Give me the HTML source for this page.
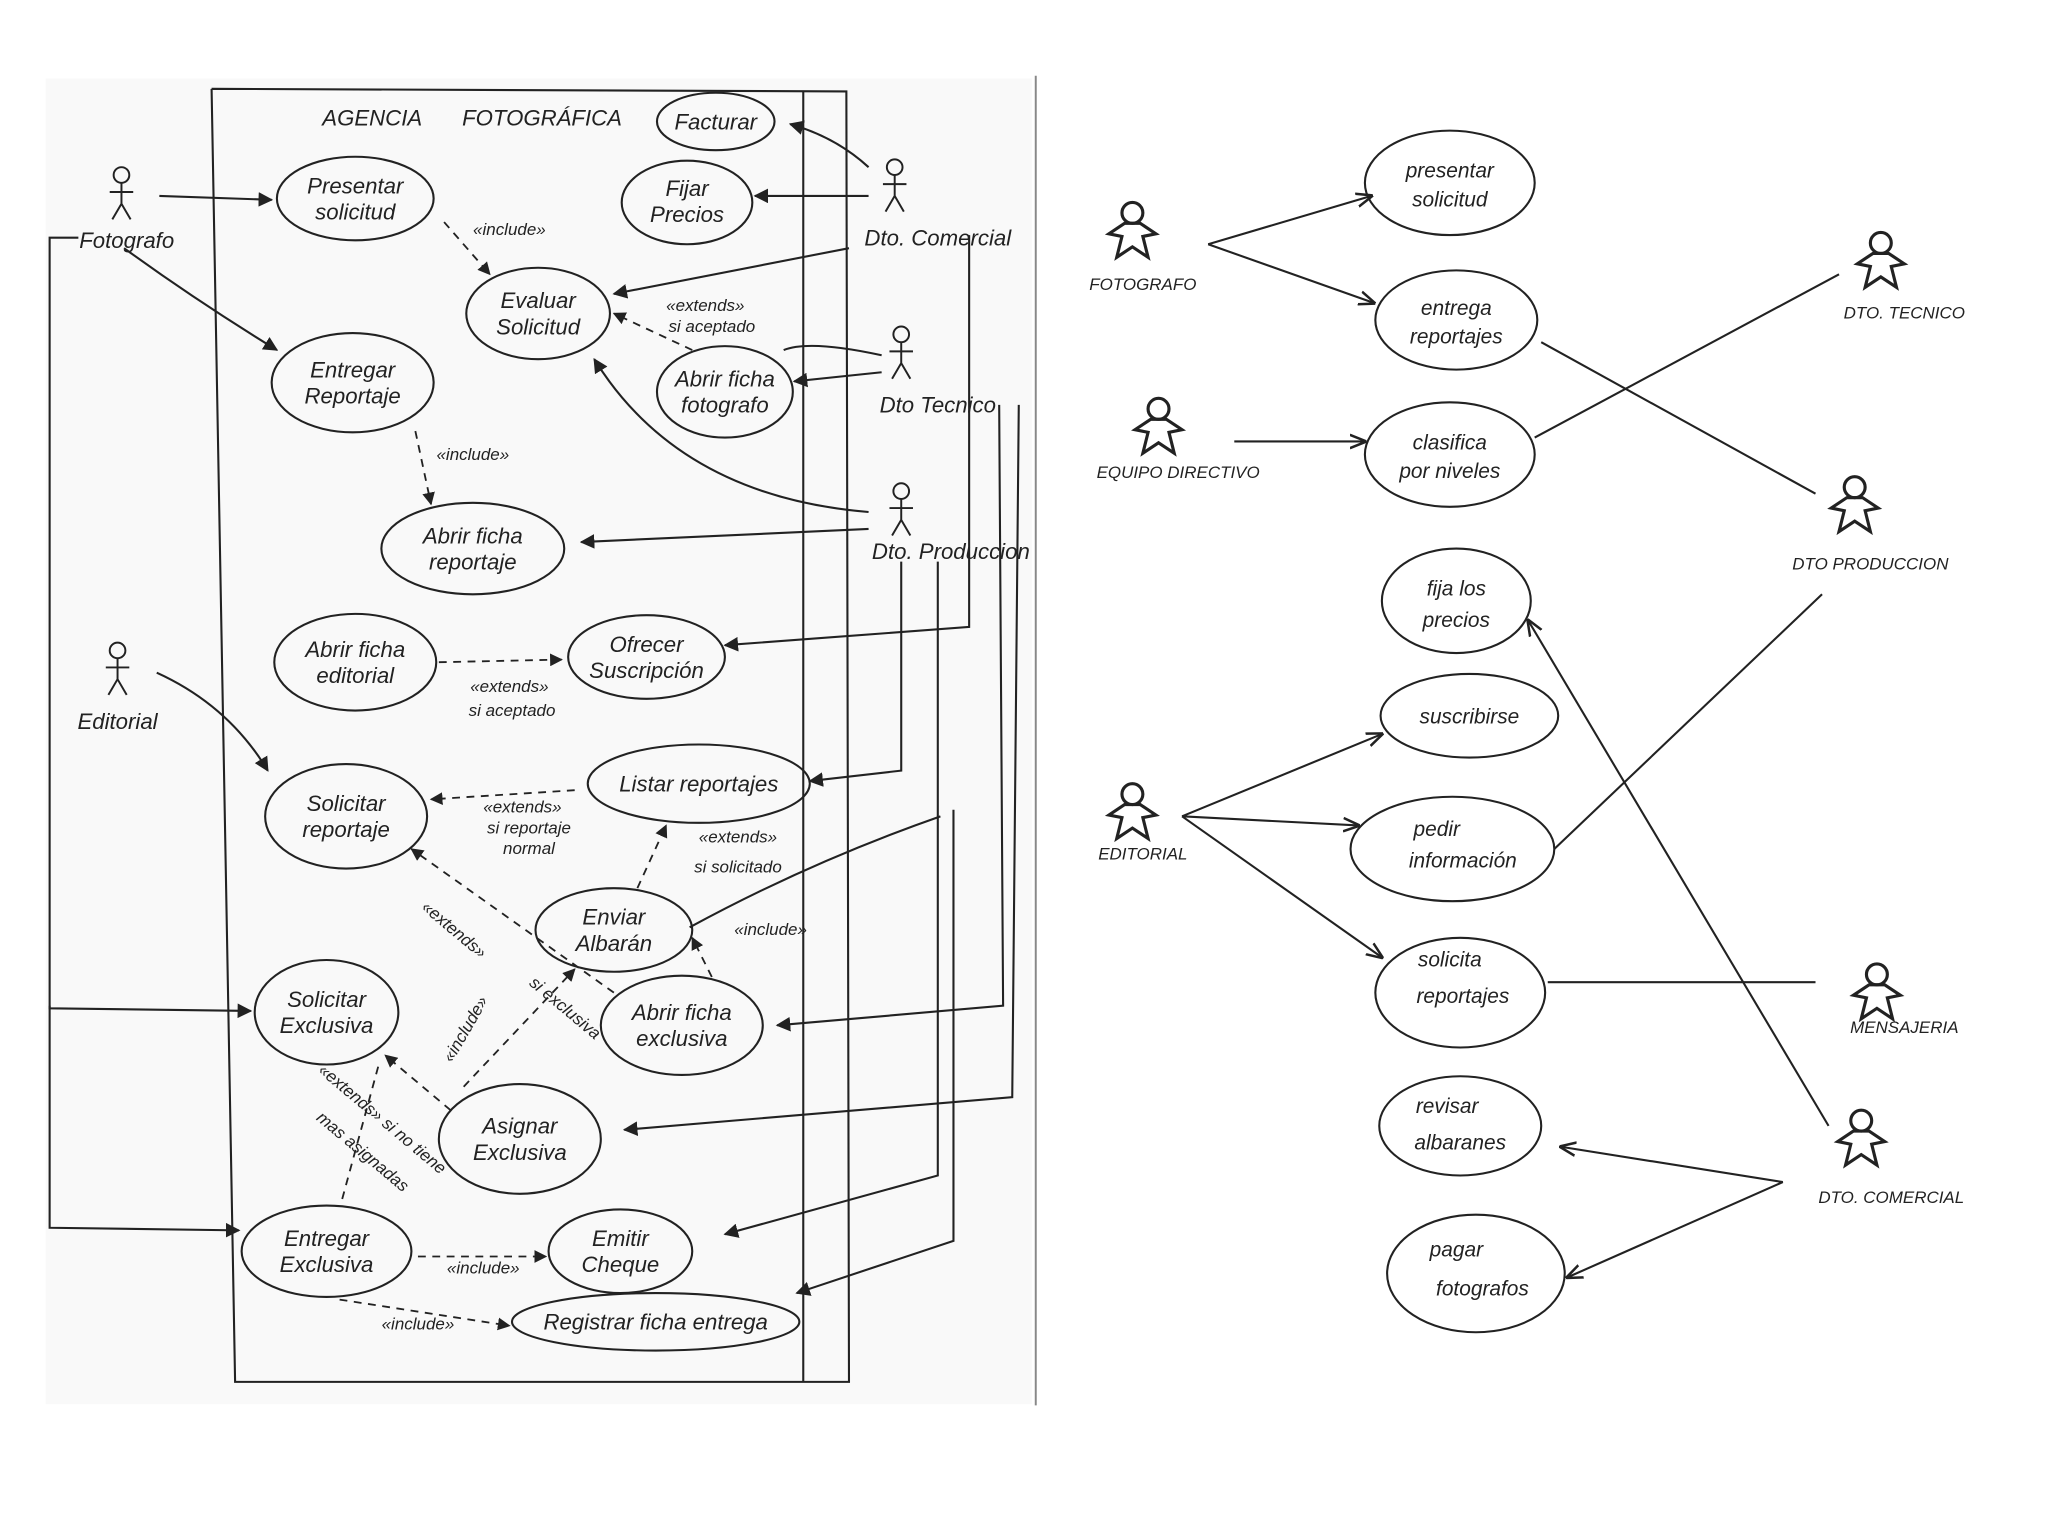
<!DOCTYPE html>
<html><head><meta charset="utf-8"><style>
html,body{margin:0;padding:0;background:#fff;width:2048px;height:1536px;overflow:hidden}
svg{display:block}
text{font-family:"Liberation Sans",sans-serif;font-style:italic;fill:#222}
</style></head><body>
<svg width="2048" height="1536" viewBox="0 0 1568 1176" xmlns="http://www.w3.org/2000/svg">
<defs>
<marker id="a" viewBox="0 0 10 10" refX="9" refY="5" markerWidth="7" markerHeight="7" orient="auto"><path d="M0,0 L10,5 L0,10 z" fill="#222"/></marker>
<marker id="o" viewBox="0 0 10 10" refX="9" refY="5" markerWidth="8" markerHeight="8" orient="auto"><path d="M0,1 L10,5 L0,9" fill="none" stroke="#222" stroke-width="1.5"/></marker>
</defs>
<rect x="35" y="60" width="755" height="1015" fill="#f9f9f9"/>
<line x1="793" y1="58" x2="793" y2="1076" stroke="#888" stroke-width="1.5"/>
<g fill="none" stroke="#222" stroke-width="1.6">
<path d="M162,68 L648,70 L650,1058 L180,1058 L162,68"/>
<line x1="615" y1="70" x2="615" y2="1058"/>
<ellipse cx="548" cy="93" rx="45" ry="22"/>
<ellipse cx="272" cy="152" rx="60" ry="32"/>
<ellipse cx="526" cy="155" rx="50" ry="32"/>
<ellipse cx="412" cy="240" rx="55" ry="35"/>
<ellipse cx="270" cy="293" rx="62" ry="38"/>
<ellipse cx="555" cy="300" rx="52" ry="35"/>
<ellipse cx="362" cy="420" rx="70" ry="35"/>
<ellipse cx="272" cy="507" rx="62" ry="37"/>
<ellipse cx="495" cy="503" rx="60" ry="32"/>
<ellipse cx="265" cy="625" rx="62" ry="40"/>
<ellipse cx="535" cy="600" rx="85" ry="30"/>
<ellipse cx="470" cy="712" rx="60" ry="32"/>
<ellipse cx="250" cy="775" rx="55" ry="40"/>
<ellipse cx="522" cy="785" rx="62" ry="38"/>
<ellipse cx="398" cy="872" rx="62" ry="42"/>
<ellipse cx="250" cy="958" rx="65" ry="35"/>
<ellipse cx="475" cy="958" rx="55" ry="32"/>
<ellipse cx="502" cy="1012" rx="110" ry="22"/>
<ellipse cx="1110" cy="140" rx="65" ry="40"/>
<ellipse cx="1115" cy="245" rx="62" ry="38"/>
<ellipse cx="1110" cy="348" rx="65" ry="40"/>
<ellipse cx="1115" cy="460" rx="57" ry="40"/>
<ellipse cx="1125" cy="548" rx="68" ry="32"/>
<ellipse cx="1112" cy="650" rx="78" ry="40"/>
<ellipse cx="1118" cy="760" rx="65" ry="42"/>
<ellipse cx="1118" cy="862" rx="62" ry="38"/>
<ellipse cx="1130" cy="975" rx="68" ry="45"/>
<line x1="925" y1="187" x2="1050" y2="150" marker-end="url(#o)"/>
<line x1="925" y1="187" x2="1052" y2="232" marker-end="url(#o)"/>
<line x1="945" y1="338" x2="1045" y2="338" marker-end="url(#o)"/>
<line x1="1175" y1="335" x2="1408" y2="210"/>
<line x1="1180" y1="262" x2="1390" y2="378"/>
<line x1="1190" y1="650" x2="1395" y2="455"/>
<line x1="1185" y1="752" x2="1390" y2="752"/>
<line x1="1400" y1="862" x2="1170" y2="475" marker-end="url(#o)"/>
<line x1="1365" y1="905" x2="1195" y2="878" marker-end="url(#o)"/>
<line x1="1365" y1="905" x2="1200" y2="978" marker-end="url(#o)"/>
<line x1="905" y1="625" x2="1058" y2="562" marker-end="url(#o)"/>
<line x1="905" y1="625" x2="1040" y2="632" marker-end="url(#o)"/>
<line x1="905" y1="625" x2="1058" y2="733" marker-end="url(#o)"/>
<line x1="122" y1="150" x2="208" y2="153" marker-end="url(#a)"/>
<path d="M95,190 Q150,230 212,268" marker-end="url(#a)"/>
<path d="M665,128 Q640,105 605,95" marker-end="url(#a)"/>
<line x1="665" y1="150" x2="578" y2="150" marker-end="url(#a)"/>
<line x1="650" y1="190" x2="470" y2="225" marker-end="url(#a)"/>
<line x1="675" y1="285" x2="608" y2="292" marker-end="url(#a)"/>
<path d="M675,272 Q620,260 600,268"/>
<path d="M665,392 Q520,380 455,275" marker-end="url(#a)"/>
<line x1="665" y1="405" x2="445" y2="415" marker-end="url(#a)"/>
<path d="M120,515 Q175,540 205,590" marker-end="url(#a)"/>
<path d="M742,180 L742,480 L555,494" marker-end="url(#a)"/>
<path d="M690,430 L690,590 L620,598" marker-end="url(#a)"/>
<path d="M765,310 L768,770 L595,785" marker-end="url(#a)"/>
<path d="M780,310 L775,840 L478,865" marker-end="url(#a)"/>
<path d="M718,430 L718,900 L555,945" marker-end="url(#a)"/>
<path d="M730,620 L730,950 L610,990" marker-end="url(#a)"/>
<path d="M60,182 L38,182 L38,772 L192,774" marker-end="url(#a)"/>
<path d="M38,770 L38,940 L183,942" marker-end="url(#a)"/>
<path d="M720,625 Q620,660 528,710"/>
</g>
<g fill="none" stroke="#222" stroke-width="1.4" stroke-dasharray="6,5">
<line x1="340" y1="170" x2="375" y2="210" marker-end="url(#a)"/>
<line x1="530" y1="268" x2="470" y2="240" marker-end="url(#a)"/>
<line x1="318" y1="330" x2="330" y2="386" marker-end="url(#a)"/>
<line x1="336" y1="507" x2="430" y2="505" marker-end="url(#a)"/>
<line x1="440" y1="605" x2="330" y2="612" marker-end="url(#a)"/>
<line x1="488" y1="680" x2="510" y2="632" marker-end="url(#a)"/>
<line x1="545" y1="748" x2="530" y2="718" marker-end="url(#a)"/>
<line x1="470" y1="760" x2="315" y2="650" marker-end="url(#a)"/>
<line x1="355" y1="832" x2="440" y2="742" marker-end="url(#a)"/>
<line x1="262" y1="918" x2="290" y2="815"/>
<line x1="345" y1="850" x2="295" y2="808" marker-end="url(#a)"/>
<line x1="320" y1="962" x2="418" y2="962" marker-end="url(#a)"/>
<line x1="260" y1="995" x2="390" y2="1015" marker-end="url(#a)"/>
</g>
<g fill="none" stroke="#222" stroke-width="1.5">
<g transform="translate(93,128)"><circle cx="0" cy="6" r="6"/><path d="M0,12 V28 M-9,19 H9 M0,28 L-7,40 M0,28 L7,40"/></g>
<g transform="translate(685,122)"><circle cx="0" cy="6" r="6"/><path d="M0,12 V28 M-9,19 H9 M0,28 L-7,40 M0,28 L7,40"/></g>
<g transform="translate(690,250)"><circle cx="0" cy="6" r="6"/><path d="M0,12 V28 M-9,19 H9 M0,28 L-7,40 M0,28 L7,40"/></g>
<g transform="translate(690,370)"><circle cx="0" cy="6" r="6"/><path d="M0,12 V28 M-9,19 H9 M0,28 L-7,40 M0,28 L7,40"/></g>
<g transform="translate(90,492)"><circle cx="0" cy="6" r="6"/><path d="M0,12 V28 M-9,19 H9 M0,28 L-7,40 M0,28 L7,40"/></g>
</g>
<g fill="none" stroke="#222" stroke-width="2.4">
<g transform="translate(867,155)"><circle cx="0" cy="8" r="8"/><path d="M-6,16 L-18,24 L-8,26 L-12,42 L0,34 L12,42 L8,26 L18,24 L6,16 z"/></g>
<g transform="translate(887,305)"><circle cx="0" cy="8" r="8"/><path d="M-6,16 L-18,24 L-8,26 L-12,42 L0,34 L12,42 L8,26 L18,24 L6,16 z"/></g>
<g transform="translate(867,600)"><circle cx="0" cy="8" r="8"/><path d="M-6,16 L-18,24 L-8,26 L-12,42 L0,34 L12,42 L8,26 L18,24 L6,16 z"/></g>
<g transform="translate(1440,178)"><circle cx="0" cy="8" r="8"/><path d="M-6,16 L-18,24 L-8,26 L-12,42 L0,34 L12,42 L8,26 L18,24 L6,16 z"/></g>
<g transform="translate(1420,365)"><circle cx="0" cy="8" r="8"/><path d="M-6,16 L-18,24 L-8,26 L-12,42 L0,34 L12,42 L8,26 L18,24 L6,16 z"/></g>
<g transform="translate(1437,738)"><circle cx="0" cy="8" r="8"/><path d="M-6,16 L-18,24 L-8,26 L-12,42 L0,34 L12,42 L8,26 L18,24 L6,16 z"/></g>
<g transform="translate(1425,850)"><circle cx="0" cy="8" r="8"/><path d="M-6,16 L-18,24 L-8,26 L-12,42 L0,34 L12,42 L8,26 L18,24 L6,16 z"/></g>
</g>
<g font-size="17" text-anchor="middle">
<text x="285" y="96">AGENCIA</text><text x="415" y="96">FOTOGRÁFICA</text>
<text x="548" y="99">Facturar</text>
<text x="272" y="148">Presentar</text><text x="272" y="168">solicitud</text>
<text x="526" y="150">Fijar</text><text x="526" y="170">Precios</text>
<text x="412" y="236">Evaluar</text><text x="412" y="256">Solicitud</text>
<text x="270" y="289">Entregar</text><text x="270" y="309">Reportaje</text>
<text x="555" y="296">Abrir ficha</text><text x="555" y="316">fotografo</text>
<text x="362" y="416">Abrir ficha</text><text x="362" y="436">reportaje</text>
<text x="272" y="503">Abrir ficha</text><text x="272" y="523">editorial</text>
<text x="495" y="499">Ofrecer</text><text x="495" y="519">Suscripción</text>
<text x="265" y="621">Solicitar</text><text x="265" y="641">reportaje</text>
<text x="535" y="606">Listar reportajes</text>
<text x="470" y="708">Enviar</text><text x="470" y="728">Albarán</text>
<text x="250" y="771">Solicitar</text><text x="250" y="791">Exclusiva</text>
<text x="522" y="781">Abrir ficha</text><text x="522" y="801">exclusiva</text>
<text x="398" y="868">Asignar</text><text x="398" y="888">Exclusiva</text>
<text x="250" y="954">Entregar</text><text x="250" y="974">Exclusiva</text>
<text x="475" y="954">Emitir</text><text x="475" y="974">Cheque</text>
<text x="502" y="1018">Registrar ficha entrega</text>
<text x="97" y="190">Fotografo</text>
<text x="718" y="188">Dto. Comercial</text>
<text x="718" y="316">Dto Tecnico</text>
<text x="728" y="428">Dto. Produccion</text>
<text x="90" y="558">Editorial</text>
</g>
<g font-size="13" text-anchor="middle">
<text x="390" y="180">«include»</text>
<text x="540" y="238">«extends»</text><text x="545" y="254">si aceptado</text>
<text x="362" y="352">«include»</text>
<text x="390" y="530">«extends»</text><text x="392" y="548">si aceptado</text>
<text x="400" y="622">«extends»</text><text x="405" y="638">si reportaje</text><text x="405" y="654">normal</text>
<text x="565" y="645">«extends»</text><text x="565" y="668">si solicitado</text>
<text x="590" y="716">«include»</text>
<text x="345" y="715" transform="rotate(40 345 715)">«extends»</text>
<text x="430" y="775" transform="rotate(40 430 775)">si exclusiva</text>
<text x="360" y="790" transform="rotate(-60 360 790)">«include»</text>
<text x="290" y="860" transform="rotate(40 290 860)">«extends» si no tiene</text>
<text x="275" y="885" transform="rotate(40 275 885)">mas asignadas</text>
<text x="370" y="975">«include»</text>
<text x="320" y="1018">«include»</text>
</g>
<g font-size="16" text-anchor="middle">
<text x="1110" y="136">presentar</text><text x="1110" y="158">solicitud</text>
<text x="1115" y="241">entrega</text><text x="1115" y="263">reportajes</text>
<text x="1110" y="344">clasifica</text><text x="1110" y="366">por niveles</text>
<text x="1115" y="456">fija los</text><text x="1115" y="480">precios</text>
<text x="1125" y="554">suscribirse</text>
<text x="1100" y="640">pedir</text><text x="1120" y="664">información</text>
<text x="1110" y="740">solicita</text><text x="1120" y="768">reportajes</text>
<text x="1108" y="852">revisar</text><text x="1118" y="880">albaranes</text>
<text x="1115" y="962">pagar</text><text x="1135" y="992">fotografos</text>
</g>
<g font-size="13" font-style="normal" text-anchor="middle">
<text x="875" y="222">FOTOGRAFO</text>
<text x="902" y="366">EQUIPO DIRECTIVO</text>
<text x="875" y="658">EDITORIAL</text>
<text x="1458" y="244">DTO. TECNICO</text>
<text x="1432" y="436">DTO PRODUCCION</text>
<text x="1458" y="791">MENSAJERIA</text>
<text x="1448" y="921">DTO. COMERCIAL</text>
</g>
</svg>
</body></html>
